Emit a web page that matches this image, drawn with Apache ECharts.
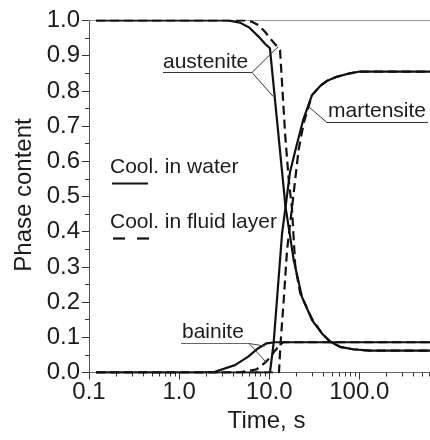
<!DOCTYPE html>
<html>
<head>
<meta charset="utf-8">
<script src="https://cdn.jsdelivr.net/npm/echarts@6/dist/echarts.min.js"></script>
<style>
  html, body { margin: 0; padding: 0; background: #fff; }
  #chart { width: 430px; height: 440px; }
</style>
</head>
<body>
<div id="chart"></div>
<script>
// Time axis (log scale, seconds)
const xMin = 0.1;
const xMax = 610;
const majorTicks = [0.1, 1, 10, 100];
const minorTicks = [0.2, 0.3, 0.4, 0.5, 0.6, 0.7, 0.8, 0.9,
                    2, 3, 4, 5, 6, 7, 8, 9,
                    20, 30, 40, 50, 60, 70, 80, 90,
                    200, 300, 400, 500, 600];

// Phase content curves: [time s, fraction]
// Cooling in water (solid)
const waterAustenite = [[0.12, 1.0], [3.5, 1.0], [4.74, 0.994], [6.0, 0.98], [7.57, 0.955], [8.99, 0.934],
  [10.2, 0.921], [15.2, 0.470], [16.8, 0.399], [18.7, 0.320], [23.1, 0.215], [29.9, 0.149],
  [38.5, 0.111], [47.3, 0.088], [61.1, 0.073], [85.2, 0.066], [131, 0.062], [610, 0.062]];
const waterMartensite = [[0.12, 0], [10.2, 0], [11.2, 0.083], [12.2, 0.206], [13.9, 0.395], [15.2, 0.470],
  [17.0, 0.568], [19.8, 0.637], [24.0, 0.72], [29.9, 0.788], [36.9, 0.814], [43.5, 0.828],
  [56.1, 0.840], [78.8, 0.850], [102, 0.855], [610, 0.855]];
const waterBainite = [[0.12, 0], [1.8, 0], [2.5, 0.002], [4.17, 0.021], [5.86, 0.045], [7.57, 0.069],
  [9.38, 0.083], [11.6, 0.086], [610, 0.086]];

// Cooling in fluid layer (dashed)
const fluidAustenite = [[0.12, 1.0], [5.5, 1.0], [6.5, 0.996], [7.57, 0.987], [8.99, 0.968], [10.2, 0.950],
  [11.6, 0.933], [13.2, 0.916], [15.1, 0.670], [16.5, 0.547], [17.9, 0.467], [19.5, 0.301],
  [22.1, 0.225], [29.9, 0.152], [38.5, 0.112], [47.3, 0.088], [61.1, 0.073], [85.2, 0.066],
  [131, 0.062], [610, 0.062]];
const fluidMartensite = [[0.12, 0], [12.85, 0], [13.3, 0.073], [14.5, 0.206], [15.8, 0.348], [17.9, 0.467],
  [21.2, 0.632], [24.2, 0.709], [29.9, 0.788], [36.9, 0.814], [43.5, 0.828], [56.1, 0.840],
  [78.8, 0.850], [102, 0.855], [610, 0.855]];
const fluidBainite = [[0.12, 0], [4.5, 0], [7.26, 0.009], [8.99, 0.028], [10.2, 0.042], [11.6, 0.062],
  [13.2, 0.078], [14.3, 0.086], [610, 0.086]];

const FONT = '"Liberation Sans", Arial, Helvetica, sans-serif';
const INK = '#1c1c1c';

const chart = echarts.init(document.getElementById('chart'), null, { renderer: 'canvas' });

function curve(name, data, dashed) {
  return {
    type: 'line',
    name: name,
    data: data,
    xAxisIndex: 0,
    yAxisIndex: 0,
    symbol: 'none',
    smooth: false,
    animation: false,
    z: dashed ? 4 : 3,
    lineStyle: { color: '#111', width: 2.2, type: dashed ? [9, 5] : 'solid', cap: 'butt' }
  };
}

const option = {
  animation: false,
  backgroundColor: '#fff',
  grid: { left: 89, right: 0, top: 20.5, bottom: 67.5, outerBoundsMode: 'none', containLabel: false },
  xAxis: [
    {
      type: 'log', logBase: 10, min: xMin, max: xMax, position: 'bottom',
      axisLine: { show: true, lineStyle: { color: '#666', width: 1 } },
      axisTick: { show: true, customValues: majorTicks, length: 7, lineStyle: { color: '#333', width: 1 } },
      axisLabel: {
        customValues: majorTicks,
        formatter: v => Number(v).toFixed(1),
        fontSize: 24, fontFamily: FONT, color: INK, margin: 8
      },
      splitLine: { show: false }
    },
    {
      type: 'log', logBase: 10, min: xMin, max: xMax, position: 'bottom',
      axisLine: { show: false },
      axisTick: { show: true, customValues: minorTicks, length: 4, lineStyle: { color: '#333', width: 1 } },
      axisLabel: { show: false },
      splitLine: { show: false }
    },
    {
      type: 'log', logBase: 10, min: xMin, max: xMax, position: 'top',
      axisLine: { show: true, lineStyle: { color: '#999', width: 1 } },
      axisTick: { show: false },
      axisLabel: { show: false },
      splitLine: { show: false }
    }
  ],
  yAxis: {
    type: 'value', min: 0, max: 1, interval: 0.1,
    axisLine: { show: true, lineStyle: { color: '#555', width: 1 } },
    axisTick: { show: true, length: 7, lineStyle: { color: '#333', width: 1 } },
    minorTick: { show: true, splitNumber: 2, length: 4, lineStyle: { color: '#333', width: 1 } },
    axisLabel: { formatter: v => v.toFixed(1), fontSize: 24, fontFamily: FONT, color: INK, margin: 9 },
    splitLine: { show: false }
  },
  series: [
    curve('austenite (water)', waterAustenite, false),
    curve('martensite (water)', waterMartensite, false),
    curve('bainite (water)', waterBainite, false),
    curve('austenite (fluid layer)', fluidAustenite, true),
    curve('martensite (fluid layer)', fluidMartensite, true),
    curve('bainite (fluid layer)', fluidBainite, true)
  ]
};
chart.setOption(option);

// Labels, leader lines, legend and axis titles
const toPx = (t, v) => chart.convertToPixel({ seriesIndex: 0 }, [t, v]);

function text(str, x, baseline, size, extra) {
  return Object.assign({
    type: 'text', x: x, y: baseline - 0.35 * size, silent: true, z: 10,
    style: { text: str, font: size + 'px ' + FONT, fill: INK, align: 'left', verticalAlign: 'middle' }
  }, extra || {});
}
function seg(x1, y1, x2, y2, color, width, dash) {
  return {
    type: 'line', silent: true, z: 10,
    shape: { x1: x1, y1: y1, x2: x2, y2: y2 },
    style: { stroke: color || '#333', lineWidth: width || 1, lineDash: dash || null }
  };
}

const aT1 = toPx(12.6, 0.926), aT2 = toPx(11.1, 0.784);
const mT = toPx(27.7, 0.754);
const bT1 = toPx(9.2, 0.030), bT2 = toPx(8.97, 0.075);

const graphics = [
  // austenite
  text('austenite', 163, 70, 21),
  seg(163, 72.5, 252, 72.5, '#333', 1),
  seg(252, 72.5, aT1[0], aT1[1], '#333', 1),
  seg(252, 72.5, aT2[0], aT2[1], '#333', 1),
  // martensite
  text('martensite', 328, 119, 21),
  seg(327, 122.5, 428, 122.5, '#333', 1),
  seg(327, 122.5, mT[0], mT[1], '#333', 1),
  // bainite
  text('bainite', 182, 340, 21),
  seg(181, 343.5, 249, 343.5, '#666', 1),
  seg(249, 343.5, bT1[0], bT1[1], '#444', 1),
  seg(249, 343.5, bT2[0], bT2[1], '#444', 1),
  // legend
  text('Cool. in water', 110, 175, 21),
  seg(112, 183.5, 148, 183.5, '#111', 2.2),
  text('Cool. in fluid layer', 110, 230, 21),
  seg(113, 238.5, 149, 238.5, '#111', 2.2, [12, 12]),
  // axis titles
  {
    type: 'text', x: 266.5, y: 421, silent: true, z: 10,
    style: { text: 'Time, s', font: '24px ' + FONT, fill: INK, align: 'center', verticalAlign: 'middle' }
  },
  {
    type: 'text', x: 24, y: 195, rotation: Math.PI / 2, silent: true, z: 10,
    style: { text: 'Phase content', font: '24px ' + FONT, fill: INK, align: 'center', verticalAlign: 'middle' }
  }
];
chart.setOption({ graphic: { elements: graphics } });
</script>
</body>
</html>
